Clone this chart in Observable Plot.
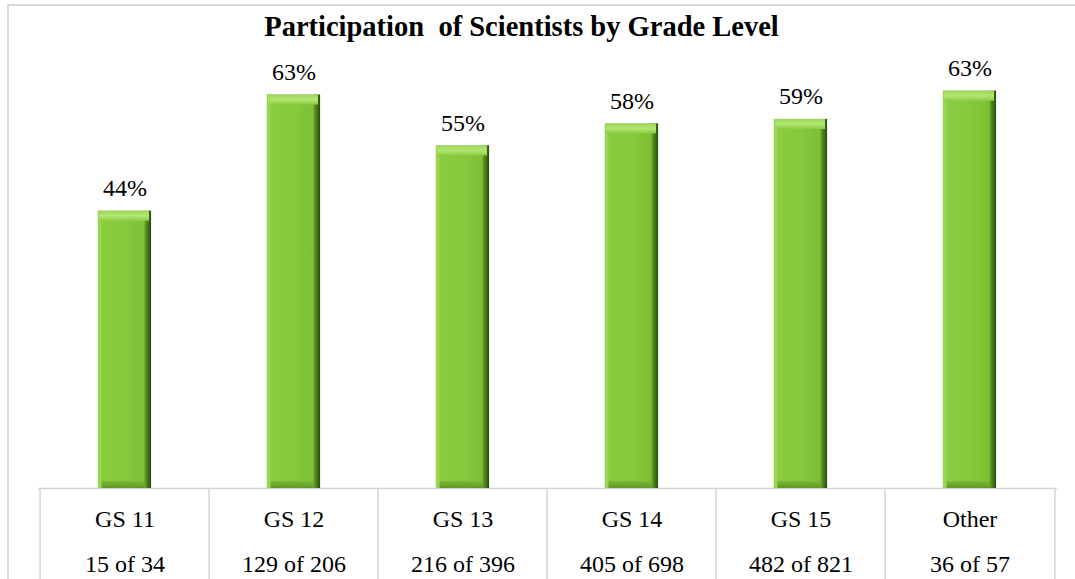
<!DOCTYPE html>
<html>
<head>
<meta charset="utf-8">
<script src="https://cdn.jsdelivr.net/npm/d3@7"></script>
<script src="https://cdn.jsdelivr.net/npm/@observablehq/plot@0.6"></script>
<style>
  html, body { margin: 0; padding: 0; background: #fff; overflow: hidden; }
  #wrap { position: relative; width: 1075px; height: 579px; }
  #frame { position: absolute; left: 7px; top: 4px; width: 1200px; height: 700px;
           border: 2px solid #d9d9d9; pointer-events: none; box-sizing: border-box; }
  svg text { font-family: 'Liberation Serif', 'Times New Roman', serif !important; }
</style>
</head>
<body>
<div id="wrap"><div id="frame"></div></div>
<script>
const titleText = "Participation  of Scientists by Grade Level";
const categories = ["GS 11", "GS 12", "GS 13", "GS 14", "GS 15", "Other"];
const participants = [15, 129, 216, 405, 482, 36];
const totals = [34, 206, 396, 698, 821, 57];
const percents = [44.1, 62.6, 54.5, 58.0, 58.7, 63.2];
const valueLabels = ["44%", "63%", "55%", "58%", "59%", "63%"];

const data = categories.map((c, i) => ({
  category: c,
  pct: percents[i],
  label: valueLabels[i],
  count: `${participants[i]} of ${totals[i]}`
}));

const W = 1075, H = 579, ML = 38, MR = 18, MT = 48, MB = 91;
const step = (W - ML - MR) / categories.length;
const padInner = 0.685;
const bw = step * (1 - padInner);
const font = "'Liberation Serif', 'Times New Roman', serif";

const chart = Plot.plot({
  width: W,
  height: H,
  marginLeft: ML,
  marginRight: MR,
  marginTop: MT,
  marginBottom: MB,
  style: { fontFamily: font, fontSize: "24px", background: "transparent", color: "#000" },
  x: { domain: categories, paddingInner: padInner, paddingOuter: padInner / 2, axis: null },
  y: { domain: [0, 70], axis: null },
  marks: [
    Plot.ruleY([0], { stroke: "#d4d4d4", strokeWidth: 1.5 }),
    Plot.ruleX(data, { x: "category", dx: -step / 2, y1: 0, y2: 0, insetBottom: -100, stroke: "#d4d4d4", strokeWidth: 1.5 }),
    Plot.ruleX(data.slice(-1), { x: "category", dx: step / 2, y1: 0, y2: 0, insetBottom: -100, stroke: "#d4d4d4", strokeWidth: 1.5 }),
    // bar body
    Plot.barY(data, { x: "category", y: "pct", fill: "url(#bodyGrad)", stroke: "#cfd9c4", strokeWidth: 0.8 }),
    // bottom bevel
    Plot.barY(data, { x: "category", y1: 0, y2: 0, insetTop: -7, fill: "url(#botGrad)" }),
    // left bevel
    Plot.barY(data, { x: "category", y: "pct", insetRight: bw - 4, fill: "#97d650" }),
    // right bevel
    Plot.barY(data, { x: "category", y: "pct", insetLeft: bw - 7, fill: "url(#rightGrad)" }),
    // top bevel
    Plot.barY(data, { x: "category", y1: "pct", y2: "pct", insetBottom: -10, insetLeft: 1, insetRight: 2, fill: "url(#topGrad)" }),
    // value labels
    Plot.text(data, { x: "category", y: "pct", text: "label", dy: -23, lineAnchor: "middle", fontFamily: font, fontSize: 24 }),
    // table rows
    Plot.text(data, { x: "category", frameAnchor: "bottom", lineAnchor: "middle", text: "category", dy: 31.3, fontFamily: font, fontSize: 24 }),
    Plot.text(data, { x: "category", frameAnchor: "bottom", lineAnchor: "middle", text: "count", dy: 76.3, fontFamily: font, fontSize: 24 }),
    // title
    Plot.text([titleText], { frameAnchor: "top", lineAnchor: "middle", text: d => d, dx: -26.5, dy: -21.3, fontSize: 28.5, fontWeight: "bold", fontFamily: font })
  ]
});

const defs = d3.select(chart).insert("defs", ":first-child");
function grad(id, x2, y2, stops) {
  const g = defs.append("linearGradient").attr("id", id)
    .attr("x1", 0).attr("y1", 0).attr("x2", x2).attr("y2", y2);
  stops.forEach(([o, c]) => g.append("stop").attr("offset", o).attr("stop-color", c));
}
grad("bodyGrad", 1, 0, [[0, "#8ccd42"], [0.5, "#86c93c"], [1, "#7cbd34"]]);
grad("rightGrad", 1, 0, [[0, "#69a52a"], [0.5, "#457a17"], [1, "#2b4c0a"]]);
grad("topGrad", 0, 1, [[0, "#9cd657"], [0.5, "#b2e772"], [1, "#8ccd43"]]);
grad("botGrad", 0, 1, [[0, "#7ab836"], [1, "#5f9a25"]]);

document.getElementById("wrap").prepend(chart);
chart.style.position = "absolute";
chart.style.left = "0";
chart.style.top = "0";
</script>
</body>
</html>
